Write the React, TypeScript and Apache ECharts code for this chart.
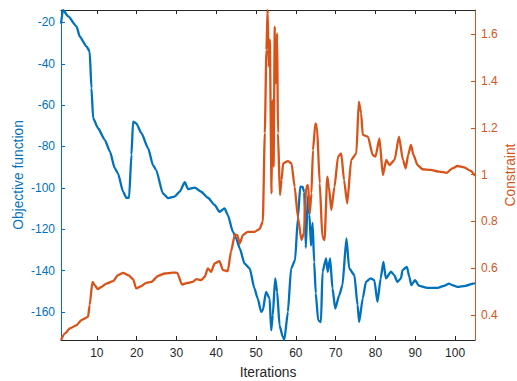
import React, { useEffect, useRef } from "react";
import * as echarts from "echarts";

const BLUE = "#0072BD";
const ORANGE = "#D95319";
const AXIS = "#262626";
const FONT = '"Liberation Sans", Arial, Helvetica, sans-serif';

const xTicks = [10, 20, 30, 40, 50, 60, 70, 80, 90, 100];
const leftTicks = [-160, -140, -120, -100, -80, -60, -40, -20];
const rightTicks = [0.4, 0.6, 0.8, 1, 1.2, 1.4, 1.6];

const objIter = [
  1.0, 1.5, 2.8, 4.9, 5.7, 7.4, 8.2, 8.65, 9.07, 10.3, 12.0, 13.3, 14.5, 15.3, 16.6, 17.4, 18.1, 18.7, 19.1, 19.9,
  21.2, 22.9, 24.1, 24.9, 26.6, 27.9, 29.5, 30.8, 32.1, 32.9, 34.6, 36.2, 37.9, 39.6, 40.8, 42.1, 42.9, 44.2, 45.0, 45.9,
  47.1, 48.4, 49.6, 50.4, 51.3, 51.7, 52.5, 53.4, 53.8, 54.2, 54.8, 55.3, 55.9, 56.7, 57.1, 58.0, 58.8, 59.8, 60.5, 61.1,
  61.7, 62.1, 62.5, 63.0, 63.4, 63.8, 64.2, 64.6, 65.0, 65.6, 66.3, 66.7, 67.6, 68.0, 68.6, 69.2, 69.9, 70.9, 71.7, 72.7,
  73.4, 74.7, 75.5, 75.9, 76.8, 77.6, 78.8, 79.7, 80.5, 81.3, 82.0, 82.6, 83.9, 84.7, 85.5, 86.4, 86.8, 87.9, 88.5, 89.0,
  89.9, 91.0, 93.0, 95.6, 97.2, 98.5, 99.3, 100.6, 102.6, 104.6, 105.0,
];
const objVals = [
  -20.6, -14.0, -17.1, -21.9, -26.8, -31.6, -34.0, -51.8, -66.3, -71.2, -76.8, -82.5, -90.5, -93.0, -101.9, -104.8, -104.8, -84.0, -68.0, -68.8,
  -73.6, -80.9, -89.0, -91.4, -102.7, -105.0, -104.3, -101.9, -97.3, -100.6, -99.9, -101.9, -104.8, -108.3, -111.6, -109.9, -113.2, -121.3, -124.5, -129.3,
  -136.6, -139.0, -148.7, -153.5, -160.0, -159.2, -150.3, -153.5, -168.9, -161.7, -143.8, -150.3, -166.5, -172.1, -173.5, -160.0, -139.0, -135.0, -114.8, -99.4,
  -99.6, -102.0, -129.0, -104.0, -113.0, -128.0, -117.0, -136.0, -151.0, -164.0, -164.9, -140.6, -134.1, -140.6, -134.1, -148.7, -158.4, -151.9, -147.1, -124.5,
  -139.0, -142.2, -156.8, -164.9, -153.5, -145.5, -143.8, -144.6, -155.2, -143.8, -135.8, -143.8, -140.6, -142.2, -145.5, -143.8, -139.8, -138.2, -143.1, -147.1,
  -144.7, -147.4, -148.4, -148.4, -147.4, -146.3, -147.1, -147.9, -147.4, -146.3, -146.0,
];

const conIter = [
  1.0, 2.0, 3.2, 4.9, 6.1, 7.8, 8.2, 8.9, 9.5, 10.2, 11.2, 12.4, 14.1, 15.3, 16.6, 17.9, 19.1, 19.9, 21.2, 22.4,
  23.7, 25.4, 27.1, 29.1, 30.2, 31.4, 32.9, 34.1, 35.0, 36.2, 37.1, 37.9, 38.7, 39.6, 40.8, 41.7, 42.9, 43.7, 44.7, 45.3,
  45.9, 46.7, 47.9, 49.6, 50.9, 51.7, 52.2, 52.6, 52.9, 53.2, 53.45, 53.9, 54.1, 54.4, 54.7, 54.95, 55.3, 55.5, 56.0, 56.4,
  56.8, 58.0, 58.9, 59.7, 60.5, 61.4, 62.0, 62.6, 63.05, 63.5, 63.9, 64.3, 64.9, 65.3, 66.0, 66.65, 67.2, 67.9, 68.3, 68.9,
  69.7, 70.6, 71.4, 72.1, 72.9, 73.9, 75.2, 75.8, 76.4, 76.8, 78.1, 79.3, 80.0, 81.0, 81.85, 82.7, 83.5, 84.8, 85.9, 86.9,
  87.6, 88.2, 88.9, 89.55, 90.55, 91.8, 93.9, 96.0, 97.9, 99.3, 100.6, 102.3, 103.9, 105.0,
];
const conVals = [
  0.294, 0.322, 0.343, 0.357, 0.379, 0.393, 0.443, 0.542, 0.528, 0.511, 0.521, 0.535, 0.545, 0.571, 0.581, 0.571, 0.554, 0.514, 0.524, 0.538,
  0.542, 0.568, 0.578, 0.582, 0.581, 0.531, 0.538, 0.542, 0.554, 0.55, 0.564, 0.6, 0.585, 0.621, 0.631, 0.592, 0.588, 0.671, 0.745, 0.742,
  0.706, 0.742, 0.756, 0.756, 0.768, 0.8, 1.177, 1.533, 1.703, 1.461, 1.576, 0.92, 1.319, 1.034, 1.632, 1.39, 1.604, 1.177, 0.913, 0.977,
  1.048, 1.058, 1.048, 0.948, 0.82, 0.721, 0.749, 0.948, 0.956, 0.835, 0.92, 1.105, 1.219, 1.205, 0.963, 0.735, 0.721, 0.991, 0.948, 0.849,
  0.948, 1.077, 1.091, 0.977, 0.877, 1.063, 1.091, 1.312, 1.262, 1.17, 1.162, 1.084, 1.077, 1.155, 0.998, 1.063, 1.041, 1.063, 1.162, 1.063,
  1.027, 1.084, 1.127, 1.084, 1.041, 1.023, 1.02, 1.013, 1.008, 1.027, 1.037, 1.031, 1.016, 0.995,
];

export default function App() {
  const ref = useRef<HTMLDivElement>(null);
  useEffect(() => {
    if (!ref.current) return;
    const chart = echarts.init(ref.current, null, { renderer: "svg" });
    const labelStyle = { fontSize: 12, fontFamily: FONT };
    const nameStyle = { fontSize: 13.8, fontFamily: FONT };
    chart.setOption({
      animation: false,
      backgroundColor: "#ffffff",
      grid: { left: 61, right: 42, top: 10, bottom: 41, containLabel: false, outerBoundsMode: "none" },
      xAxis: [
        {
          type: "value",
          min: 1,
          max: 105,
          position: "bottom",
          name: "Iterations",
          nameLocation: "middle",
          nameGap: 25,
          nameMoveOverlap: false,
          nameTextStyle: { ...nameStyle, color: AXIS },
          axisLine: { show: true, onZero: false, lineStyle: { color: AXIS, width: 1 } },
          axisTick: { show: true, inside: true, length: 4, customValues: xTicks, lineStyle: { color: AXIS } },
          axisLabel: { ...labelStyle, color: AXIS, margin: 7, customValues: xTicks },
          splitLine: { show: false },
        },
        {
          type: "value",
          min: 1,
          max: 105,
          position: "top",
          axisLine: { show: true, onZero: false, lineStyle: { color: AXIS, width: 1 } },
          axisTick: { show: true, inside: true, length: 4, customValues: xTicks, lineStyle: { color: AXIS } },
          axisLabel: { show: false },
          splitLine: { show: false },
        },
      ],
      yAxis: [
        {
          type: "value",
          min: -173.6,
          max: -14,
          position: "left",
          name: "Objective function",
          nameLocation: "middle",
          nameGap: 36,
          nameMoveOverlap: false,
          nameRotate: 90,
          nameTextStyle: { ...nameStyle, color: BLUE },
          axisLine: { show: true, onZero: false, lineStyle: { color: BLUE, width: 1 } },
          axisTick: { show: true, inside: true, length: 4, customValues: leftTicks, lineStyle: { color: BLUE } },
          axisLabel: { ...labelStyle, color: BLUE, margin: 6, customValues: leftTicks },
          splitLine: { show: false },
        },
        {
          type: "value",
          min: 0.294,
          max: 1.703,
          position: "right",
          name: "Constraint",
          nameLocation: "middle",
          nameGap: 28,
          nameMoveOverlap: false,
          nameRotate: 90,
          nameTextStyle: { ...nameStyle, color: ORANGE },
          axisLine: { show: true, onZero: false, lineStyle: { color: ORANGE, width: 1 } },
          axisTick: { show: true, inside: true, length: 4, customValues: rightTicks, lineStyle: { color: ORANGE } },
          axisLabel: { ...labelStyle, color: ORANGE, margin: 6, customValues: rightTicks },
          splitLine: { show: false },
        },
      ],
      series: [
        {
          name: "Objective function",
          type: "line",
          xAxisIndex: 0,
          yAxisIndex: 0,
          data: objIter.map((x, i) => [x, objVals[i]]),
          showSymbol: false,
          smooth: 0.2,
          smoothMonotone: "x",
          lineStyle: { color: BLUE, width: 2.3 },
          itemStyle: { color: BLUE },
        },
        {
          name: "Constraint",
          type: "line",
          xAxisIndex: 0,
          yAxisIndex: 1,
          data: conIter.map((x, i) => [x, conVals[i]]),
          showSymbol: false,
          smooth: 0.2,
          smoothMonotone: "x",
          lineStyle: { color: ORANGE, width: 2.3 },
          itemStyle: { color: ORANGE },
        },
      ],
    });
    return () => chart.dispose();
  }, []);
  return (
    <div
      ref={ref}
      style={{ position: "fixed", left: 0, top: 0, width: 517, height: 381, background: "#fff" }}
    />
  );
}
